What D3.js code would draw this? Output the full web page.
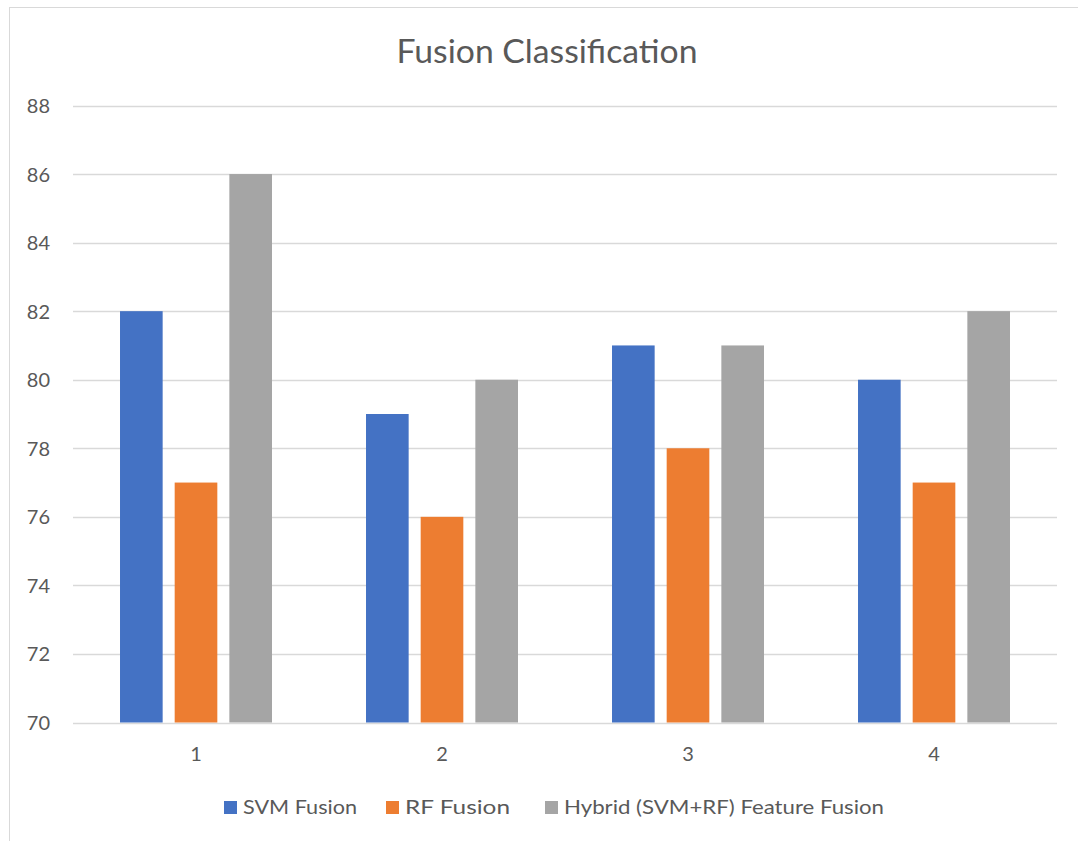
<!DOCTYPE html>
<html>
<head>
<meta charset="utf-8">
<script src="https://cdn.jsdelivr.net/npm/d3@7"></script>
<style>
  body { margin: 0; background: #fff; }
  text { font-family: Lato, "Open Sans", sans-serif; fill: #595959; }
</style>
</head>
<body>
<svg id="chart" width="1078" height="841"></svg>
<script>
var categories = ["1", "2", "3", "4"];
var seriesNames = ["SVM Fusion", "RF Fusion", "Hybrid (SVM+RF) Feature Fusion"];
var svmValues = [82, 79, 81, 80];
var rfValues = [77, 76, 78, 77];
var hybridValues = [86, 80, 81, 82];
var yTicks = [70, 72, 74, 76, 78, 80, 82, 84, 86, 88];
var colors = ["#4472C4", "#ED7D31", "#A5A5A5"];

var allValues = [svmValues, rfValues, hybridValues];

var svg = d3.select("#chart");

// chart border (Excel style, cut off on right/bottom)
svg.append("rect")
  .attr("x", 9.5).attr("y", 7.5)
  .attr("width", 1100).attr("height", 900)
  .attr("fill", "none")
  .attr("stroke", "#D9D9D9")
  .attr("stroke-width", 1);

var x0 = d3.scaleBand()
  .domain(categories)
  .range([73, 1057])
  .padding(0);

var x1 = d3.scaleBand()
  .domain(seriesNames)
  .range([0, x0.bandwidth()])
  .paddingInner(0.22)
  .paddingOuter(0.86);

var y = d3.scaleLinear()
  .domain([70, 88])
  .range([722.5, 105.5]);

// gridlines
svg.append("g").selectAll("line")
  .data(yTicks)
  .enter()
  .append("line")
  .attr("x1", 73).attr("x2", 1057)
  .attr("y1", function(d){ return Math.round(y(d)) + 0.5; })
  .attr("y2", function(d){ return Math.round(y(d)) + 0.5; })
  .attr("stroke", "#D9D9D9")
  .attr("stroke-width", 1.3);

// y labels
svg.append("g").selectAll("text")
  .data(yTicks)
  .enter()
  .append("text")
  .attr("x", 50)
  .attr("y", function(d){ return y(d) + 7.5; })
  .attr("text-anchor", "end")
  .style("font-size", "20px")
  .text(function(d){ return d; });

// bars
var groups = svg.append("g").selectAll("g")
  .data(categories)
  .enter()
  .append("g")
  .attr("transform", function(d){ return "translate(" + x0(d) + ",0)"; });

groups.selectAll("rect")
  .data(function(d, i){
    return seriesNames.map(function(s, j){ return {s: s, v: allValues[j][i], c: colors[j]}; });
  })
  .enter()
  .append("rect")
  .attr("x", function(d){ return x1(d.s); })
  .attr("y", function(d){ return y(d.v); })
  .attr("width", x1.bandwidth())
  .attr("height", function(d){ return y(70) - y(d.v); })
  .attr("fill", function(d){ return d.c; });

// x labels
svg.append("g").selectAll("text")
  .data(categories)
  .enter()
  .append("text")
  .attr("x", function(d){ return x0(d) + x0.bandwidth() / 2; })
  .attr("y", 761)
  .attr("text-anchor", "middle")
  .style("font-size", "20px")
  .text(function(d){ return d; });

// title
svg.append("text")
  .attr("x", 547)
  .attr("y", 63)
  .attr("text-anchor", "middle")
  .style("font-size", "32px")
  .attr("textLength", 301)
  .attr("lengthAdjust", "spacingAndGlyphs")
  .text("Fusion Classification");

// legend
var legendX = [224, 386, 545];
var legendW = [114, 105, 320];
var legend = svg.append("g").selectAll("g")
  .data(seriesNames)
  .enter()
  .append("g")
  .attr("transform", function(d, i){ return "translate(" + legendX[i] + ",0)"; });

legend.append("rect")
  .attr("x", 0).attr("y", 801)
  .attr("width", 13).attr("height", 13)
  .attr("fill", function(d, i){ return colors[i]; });

legend.append("text")
  .attr("x", 19)
  .attr("y", 814)
  .style("font-size", "20px")
  .attr("textLength", function(d, i){ return legendW[i]; })
  .attr("lengthAdjust", "spacingAndGlyphs")
  .text(function(d){ return d; });
</script>
</body>
</html>
